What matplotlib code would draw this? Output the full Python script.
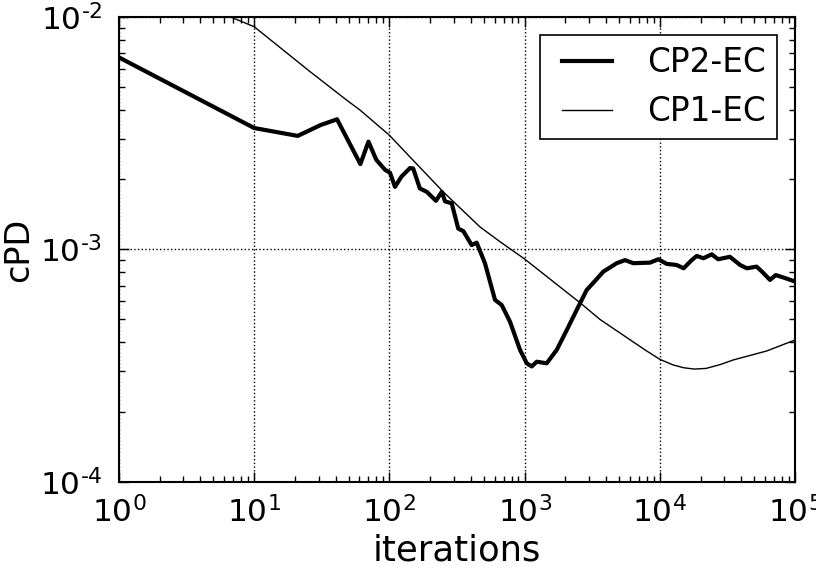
import matplotlib
matplotlib.use("Agg")
import matplotlib.pyplot as plt
from matplotlib.legend_handler import HandlerLine2D
from matplotlib.ticker import FixedLocator, FuncFormatter
import numpy as np

# CP2-EC (thick)
cp2_x = [1, 10, 21, 31, 41, 61, 70, 80, 93, 101, 110, 123, 142, 150, 168, 189, 221, 244,
         258, 289, 323, 352, 406, 442, 509, 604, 677, 780, 925, 1037, 1128, 1230, 1457,
         1728, 2050, 2430, 2880, 3300, 3820, 4800, 5530, 6370, 8470, 9750, 11250, 13300,
         15000, 17200, 18750, 21000, 24200, 27000, 33000, 39200, 44000, 52000, 57000,
         65300, 72000, 81900, 100000]
cp2_y = [6.7e-3, 3.33e-3, 3.08e-3, 3.43e-3, 3.63e-3, 2.33e-3, 2.91e-3, 2.43e-3, 2.2e-3,
         2.14e-3, 1.86e-3, 2.06e-3, 2.24e-3, 2.23e-3, 1.83e-3, 1.77e-3, 1.62e-3, 1.77e-3,
         1.61e-3, 1.58e-3, 1.23e-3, 1.2e-3, 1.045e-3, 1.07e-3, 8.73e-4, 6.07e-4, 5.77e-4,
         4.89e-4, 3.7e-4, 3.24e-4, 3.14e-4, 3.29e-4, 3.24e-4, 3.7e-4, 4.5e-4, 5.5e-4,
         6.7e-4, 7.3e-4, 8.03e-4, 8.73e-4, 9.0e-4, 8.73e-4, 8.78e-4, 9.08e-4, 8.67e-4,
         8.58e-4, 8.3e-4, 9.0e-4, 9.38e-4, 9.17e-4, 9.53e-4, 9.08e-4, 9.3e-4, 8.58e-4,
         8.3e-4, 8.44e-4, 8.03e-4, 7.4e-4, 7.76e-4, 7.58e-4, 7.28e-4]

# CP1-EC (thin)
cp1_x = [1, 10, 25.9, 48.3, 60.6, 100, 142, 250, 468, 658, 1000, 2570, 3614, 6370,
         8000, 10000, 12500, 15000, 18000, 22000, 28000, 35000, 61700, 100000]
cp1_y = [1.58e-2, 9.08e-3, 5.82e-3, 4.39e-3, 3.98e-3, 3.1e-3, 2.5e-3, 1.77e-3, 1.25e-3,
         1.08e-3, 9.1e-4, 5.9e-4, 5.0e-4, 4.0e-4, 3.66e-4, 3.37e-4, 3.19e-4, 3.1e-4,
         3.06e-4, 3.08e-4, 3.2e-4, 3.35e-4, 3.66e-4, 4.08e-4]

series_labels = ["CP2-EC", "CP1-EC"]
x_ticks = [1, 10, 100, 1000, 10000, 100000]
y_ticks = [1e-4, 1e-3, 1e-2]

plt.rcParams['font.family'] = ['DejaVu Sans']
plt.rcParams['mathtext.fontset'] = 'dejavusans'


def log_fmt(v, pos):
    e = int(round(np.log10(v)))
    if e < 0:
        return r'$10^{\text{-}%d}$' % (-e)
    return r'$10^{%d}$' % e


class ShortLine(HandlerLine2D):
    def get_xdata(self, legend, xdescent, ydescent, width, height, fontsize):
        xd = np.array([-xdescent + 0.175 * width, -xdescent + width])
        return xd, xd


fig = plt.figure(figsize=(8.16, 5.70), dpi=100)
ax = fig.add_axes([0.1458, 0.1544, 0.9743 - 0.1458, 0.9702 - 0.1544])

ax.plot(cp2_x, cp2_y, color='black', lw=3, label=series_labels[0])
ax.plot(cp1_x, cp1_y, color='black', lw=1, label=series_labels[1])

ax.set_xscale('log')
ax.set_yscale('log')
ax.set_xlim(1, 1e5)
ax.set_ylim(1e-4, 1e-2)
ax.xaxis.set_major_locator(FixedLocator(x_ticks))
ax.yaxis.set_major_locator(FixedLocator(y_ticks))
ax.xaxis.set_major_formatter(FuncFormatter(log_fmt))
ax.yaxis.set_major_formatter(FuncFormatter(log_fmt))

ax.grid(True, which='major', linestyle=':', color='black', lw=1)
ax.tick_params(which='both', direction='in', top=True, right=True, labelsize=22.5)
ax.tick_params(axis='x', which='major', pad=10)
ax.tick_params(axis='y', which='major', pad=12)
ax.tick_params(which='major', length=7, width=1)
ax.tick_params(which='minor', length=4, width=1)
for s in ax.spines.values():
    s.set_linewidth(1.5)

ax.set_xlabel('iterations', fontsize=25.5, labelpad=4)
ax.set_ylabel('cPD', fontsize=24)
ax.yaxis.set_label_coords(-0.124, 0.5)

leg = ax.legend(loc='upper right', fontsize=23.5, fancybox=False, framealpha=1,
                edgecolor='black', handlelength=1.86, handletextpad=1.07,
                labelspacing=0.48, borderpad=0.35, borderaxespad=0.55,
                handler_map={matplotlib.lines.Line2D: ShortLine()})
leg.get_frame().set_linewidth(1.2)

fig.savefig('out.png', dpi=100)
